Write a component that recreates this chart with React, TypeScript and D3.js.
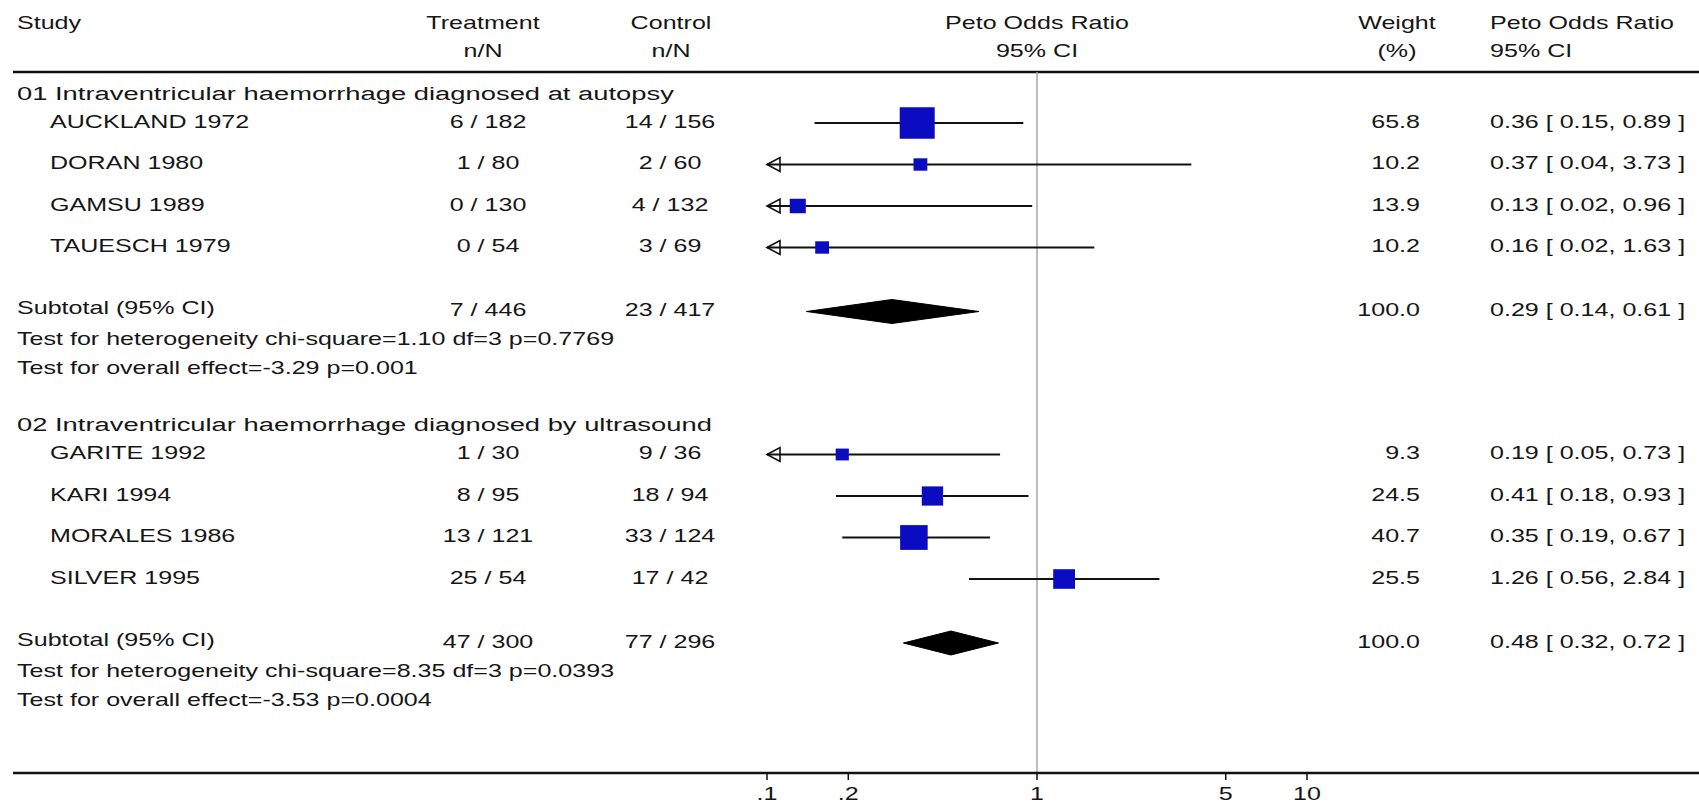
import React from "react";
import * as d3 from "d3";

// chart values
const groupTitles = [
  "01 Intraventricular haemorrhage diagnosed at autopsy",
  "02 Intraventricular haemorrhage diagnosed by ultrasound",
];
const studies = [
  "AUCKLAND 1972",
  "DORAN 1980",
  "GAMSU 1989",
  "TAUESCH 1979",
  "GARITE 1992",
  "KARI 1994",
  "MORALES 1986",
  "SILVER 1995",
];
const studyGroup = [0, 0, 0, 0, 1, 1, 1, 1];
const treatment = ["6 / 182", "1 / 80", "0 / 130", "0 / 54", "1 / 30", "8 / 95", "13 / 121", "25 / 54"];
const control = ["14 / 156", "2 / 60", "4 / 132", "3 / 69", "9 / 36", "18 / 94", "33 / 124", "17 / 42"];
const weights = [65.8, 10.2, 13.9, 10.2, 9.3, 24.5, 40.7, 25.5];
const oddsRatio = [0.36, 0.37, 0.13, 0.16, 0.19, 0.41, 0.35, 1.26];
const ciLow = [0.15, 0.04, 0.02, 0.02, 0.05, 0.18, 0.19, 0.56];
const ciHigh = [0.89, 3.73, 0.96, 1.63, 0.73, 0.93, 0.67, 2.84];

const subTreatment = ["7 / 446", "47 / 300"];
const subControl = ["23 / 417", "77 / 296"];
const subWeight = [100.0, 100.0];
const subOR = [0.29, 0.48];
const subLow = [0.14, 0.32];
const subHigh = [0.61, 0.72];
const heterogeneity = ["chi-square=1.10 df=3 p=0.7769", "chi-square=8.35 df=3 p=0.0393"];
const overallEffect = ["-3.29 p=0.001", "-3.53 p=0.0004"];

const tickValues = [0.1, 0.2, 1, 5, 10];
const tickLabels = [".1", ".2", "1", "5", "10"];

const W = 1699;
const H = 808;
const FS = 19;
const SX = 1.32; // the reference text is stretched sideways
const INK = "#161616";

const x = d3.scaleLog().domain([0.1, 10]).range([767, 1307]);
const boxSize = d3.scaleSqrt().domain([0, 65.8]).range([0, 35]);
const f2 = d3.format(".2f");
const f1 = d3.format(".1f");

const ciText = (o: number, l: number, h: number) => `${f2(o)} [ ${f2(l)}, ${f2(h)} ]`;

const Txt = ({ x, y, anchor = "start", sx = SX, children }: any) => (
  <text
    transform={`translate(${x},${y}) scale(${sx},1)`}
    textAnchor={anchor}
    dy="0.36em"
    fontSize={FS}
    fill={INK}
  >
    {children}
  </text>
);

// vertical layout of rows
const rows: any[] = [];
let yy = 93;
groupTitles.forEach((title, g) => {
  rows.push({ kind: "group", g, y: yy });
  yy += 30;
  studies.forEach((s, i) => {
    if (studyGroup[i] !== g) return;
    rows.push({ kind: "study", i, y: yy });
    yy += 41.5;
  });
  yy += 64 - 41.5;
  rows.push({ kind: "subtotal", g, y: yy });
  yy += 27;
  rows.push({ kind: "het", g, y: yy });
  yy += 29;
  rows.push({ kind: "overall", g, y: yy });
  yy += 57;
});

const HEAD_LINE = 72;
const AXIS_Y = 773;

const Study = ({ i, y }: any) => {
  const lo = Math.max(ciLow[i], 0.1);
  const hi = Math.min(ciHigh[i], 10);
  const s = boxSize(weights[i]);
  return (
    <g>
      <Txt x={50} y={y - 2}>{studies[i]}</Txt>
      <Txt x={488} y={y - 2} anchor="middle">{treatment[i]}</Txt>
      <Txt x={670} y={y - 2} anchor="middle">{control[i]}</Txt>
      <line x1={x(lo)} x2={x(hi)} y1={y} y2={y} stroke="#111" strokeWidth={2} />
      {ciLow[i] < 0.1 && (
        <polygon
          points={`${x(0.1)},${y} ${x(0.1) + 13},${y - 7} ${x(0.1) + 13},${y + 7}`}
          fill="none"
          stroke="#111"
          strokeWidth={1.6}
        />
      )}
      <rect
        x={x(oddsRatio[i]) - s / 2}
        y={y - (s * 0.9) / 2}
        width={s}
        height={s * 0.9}
        fill="#0b0bc2"
      />
      <Txt x={1420} y={y - 2} anchor="end">{f1(weights[i])}</Txt>
      <Txt x={1490} y={y - 2}>{ciText(oddsRatio[i], ciLow[i], ciHigh[i])}</Txt>
    </g>
  );
};

const Subtotal = ({ g, y }: any) => {
  const d = 12;
  const pts = [
    [x(subLow[g]), y],
    [x(subOR[g]), y - d],
    [x(subHigh[g]), y],
    [x(subOR[g]), y + d],
  ];
  return (
    <g>
      <Txt x={17} y={y - 4}>Subtotal (95% CI)</Txt>
      <Txt x={488} y={y - 2} anchor="middle">{subTreatment[g]}</Txt>
      <Txt x={670} y={y - 2} anchor="middle">{subControl[g]}</Txt>
      <polygon points={pts.map((p) => p.join(",")).join(" ")} fill="#000" stroke="#000" strokeWidth={1} />
      <Txt x={1420} y={y - 2} anchor="end">{f1(subWeight[g])}</Txt>
      <Txt x={1490} y={y - 2}>{ciText(subOR[g], subLow[g], subHigh[g])}</Txt>
    </g>
  );
};

export default function App() {
  return (
    <div style={{ position: "absolute", left: 0, top: 0, background: "#fff" }}>
      <svg width={W} height={H} style={{ display: "block", fontFamily: "'Liberation Sans', Arial, sans-serif" }}>
        <rect width={W} height={H} fill="#fff" />

        {/* header */}
        <Txt x={17} y={22}>Study</Txt>
        <Txt x={483} y={22} anchor="middle">Treatment</Txt>
        <Txt x={483} y={50} anchor="middle">n/N</Txt>
        <Txt x={671} y={22} anchor="middle">Control</Txt>
        <Txt x={671} y={50} anchor="middle">n/N</Txt>
        <Txt x={x(1)} y={22} anchor="middle">Peto Odds Ratio</Txt>
        <Txt x={x(1)} y={50} anchor="middle">95% CI</Txt>
        <Txt x={1397} y={22} anchor="middle">Weight</Txt>
        <Txt x={1397} y={50} anchor="middle">(%)</Txt>
        <Txt x={1490} y={22}>Peto Odds Ratio</Txt>
        <Txt x={1490} y={50}>95% CI</Txt>
        <line x1={13} x2={W} y1={HEAD_LINE} y2={HEAD_LINE} stroke="#111" strokeWidth={2.5} />

        {/* line of no effect */}
        <line x1={x(1)} x2={x(1)} y1={HEAD_LINE} y2={AXIS_Y} stroke="#a6a6a6" strokeWidth={1.5} />

        {rows.map((r, k) => {
          if (r.kind === "group")
            return <Txt key={k} x={17} y={r.y} sx={1.44}>{groupTitles[r.g]}</Txt>;
          if (r.kind === "study") return <Study key={k} i={r.i} y={r.y} />;
          if (r.kind === "subtotal") return <Subtotal key={k} g={r.g} y={r.y} />;
          if (r.kind === "het")
            return <Txt key={k} x={17} y={r.y}>{`Test for heterogeneity ${heterogeneity[r.g]}`}</Txt>;
          return <Txt key={k} x={17} y={r.y}>{`Test for overall effect=${overallEffect[r.g]}`}</Txt>;
        })}

        {/* axis */}
        <line x1={13} x2={W} y1={AXIS_Y} y2={AXIS_Y} stroke="#111" strokeWidth={2.5} />
        {tickValues.map((t, k) => (
          <g key={k} transform={`translate(${x(t)},0)`}>
            <line y1={AXIS_Y} y2={AXIS_Y + 7} stroke="#111" strokeWidth={1.5} />
            <Txt x={0} y={AXIS_Y + 20} anchor="middle">{tickLabels[k]}</Txt>
          </g>
        ))}
      </svg>
    </div>
  );
}
